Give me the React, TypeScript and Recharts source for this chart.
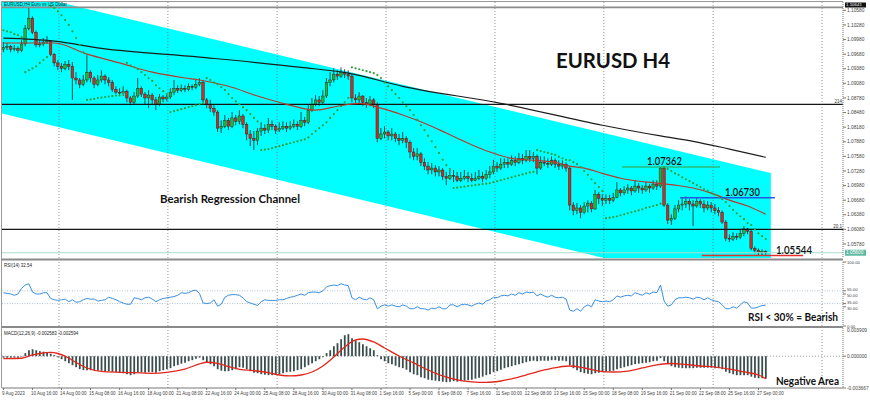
import React from "react";
import { Area, Bar, ComposedChart, Line, ReferenceLine, XAxis, YAxis } from "recharts";

// EURUSD H4, 9 Aug 08:00 -> 27 Sep 08:00 (one entry per 4h bar), prices
const firstOpen = 1.0978;
const closes = [
  1.0982, 1.0984, 1.0978, 1.098, 1.0976, 1.0989, 1.1021, 1.1042, 1.1013, 1.0987,
  1.0989, 1.0993, 1.0995, 1.0968, 1.095, 1.0943, 1.0939, 1.0947, 1.0943, 1.0919,
  1.0915, 1.0906, 1.0915, 1.0931, 1.0919, 1.0906, 1.0915, 1.0923, 1.0915, 1.091,
  1.0896, 1.089, 1.0888, 1.0892, 1.0878, 1.0869, 1.0882, 1.0898, 1.0886, 1.0878,
  1.0884, 1.0874, 1.0865, 1.088, 1.0876, 1.088, 1.089, 1.0898, 1.0894, 1.0898,
  1.0896, 1.0902, 1.09, 1.0906, 1.091, 1.0874, 1.0865, 1.0857, 1.0849, 1.0816,
  1.082, 1.0832, 1.082, 1.0837, 1.083, 1.0841, 1.0824, 1.0804, 1.0795, 1.0791,
  1.081, 1.0816, 1.0812, 1.0824, 1.082, 1.0812, 1.0816, 1.082, 1.0816, 1.082,
  1.0824, 1.082, 1.0832, 1.0828, 1.0853, 1.0865, 1.0874, 1.0869, 1.0882, 1.091,
  1.0915, 1.0927, 1.0923, 1.0931, 1.0927, 1.0923, 1.0878, 1.0874, 1.0882, 1.0869,
  1.0865, 1.0874, 1.0865, 1.0795, 1.0804, 1.0808, 1.08, 1.0804, 1.0795, 1.0791,
  1.0795, 1.0787, 1.0767, 1.0758, 1.0763, 1.0746, 1.0738, 1.073, 1.0734, 1.0726,
  1.073, 1.0717, 1.0713, 1.0719, 1.0717, 1.0709, 1.0713, 1.0717, 1.0713, 1.0709,
  1.0713, 1.0717, 1.0713, 1.0721, 1.0726, 1.0738, 1.0734, 1.0742, 1.0746, 1.0742,
  1.075, 1.0746, 1.0754, 1.075, 1.0758, 1.0754, 1.0758, 1.0734, 1.0746, 1.0744,
  1.0742, 1.075, 1.0742, 1.0738, 1.0742, 1.0734, 1.0658, 1.0647, 1.0652, 1.0643,
  1.0656, 1.0662, 1.065, 1.068, 1.0672, 1.0668, 1.0672, 1.0668, 1.0674, 1.0689,
  1.0683, 1.0689, 1.0693, 1.0687, 1.0697, 1.0693, 1.0689, 1.0697, 1.0693, 1.0701,
  1.0697, 1.0734, 1.0658, 1.0627, 1.0631, 1.065, 1.0658, 1.066, 1.0666, 1.066,
  1.0656, 1.0666, 1.066, 1.0652, 1.0658, 1.0652, 1.0647, 1.0643, 1.0623, 1.059,
  1.0588, 1.0594, 1.0592, 1.06, 1.0609, 1.0604, 1.0569, 1.0565, 1.0561, 1.0563,
  1.056,
];
const highs = [
  1.0993, 1.0991, 1.0987, 1.0987, 1.0984, 1.0997, 1.1028, 1.1065, 1.1046, 1.1017,
  1.0997, 1.1001, 1.1005, 1.0997, 1.097, 1.0956, 1.095, 1.0954, 1.0956, 1.0952,
  1.0931, 1.0919, 1.0925, 1.0966, 1.0935, 1.0923, 1.0925, 1.0935, 1.0927, 1.0921,
  1.0915, 1.0902, 1.0898, 1.0902, 1.0895, 1.0882, 1.089, 1.0919, 1.0902, 1.089,
  1.0894, 1.0888, 1.088, 1.0886, 1.0884, 1.0884, 1.0898, 1.0915, 1.0904, 1.0906,
  1.0904, 1.0908, 1.0906, 1.0915, 1.0919, 1.0915, 1.0878, 1.0874, 1.0863, 1.0853,
  1.0832, 1.0843, 1.0837, 1.0849, 1.0843, 1.0853, 1.0845, 1.0828, 1.0812, 1.081,
  1.0816, 1.0828, 1.0824, 1.0837, 1.0832, 1.0824, 1.0828, 1.083, 1.0828, 1.083,
  1.0834, 1.083, 1.0849, 1.0839, 1.0865, 1.0878, 1.0884, 1.0882, 1.0894, 1.0919,
  1.0931, 1.0939, 1.0935, 1.0941, 1.0937, 1.0935, 1.0927, 1.0886, 1.089, 1.0884,
  1.0878, 1.0882, 1.0878, 1.0869, 1.0816, 1.082, 1.0812, 1.0816, 1.0808, 1.0804,
  1.0808, 1.08, 1.0791, 1.0775, 1.0775, 1.0767, 1.0754, 1.0746, 1.0744, 1.074,
  1.0738, 1.0734, 1.0726, 1.073, 1.073, 1.0726, 1.0726, 1.073, 1.0726, 1.0723,
  1.0726, 1.073, 1.0726, 1.073, 1.0738, 1.0751, 1.0746, 1.0754, 1.0754, 1.0754,
  1.076, 1.0758, 1.0765, 1.0763, 1.0771, 1.0771, 1.0767, 1.0762, 1.0758, 1.0758,
  1.0754, 1.0758, 1.0754, 1.075, 1.075, 1.0746, 1.0738, 1.0664, 1.0662, 1.0658,
  1.0664, 1.0668, 1.0666, 1.0689, 1.0685, 1.068, 1.068, 1.0679, 1.0683, 1.0705,
  1.0693, 1.0697, 1.0701, 1.0697, 1.0709, 1.0703, 1.0699, 1.0705, 1.0701, 1.0709,
  1.0709, 1.07362, 1.0735, 1.0662, 1.0639, 1.0658, 1.0668, 1.0672, 1.0676, 1.067,
  1.0668, 1.0674, 1.067, 1.0668, 1.0666, 1.0664, 1.066, 1.0654, 1.0647, 1.0627,
  1.0598, 1.0602, 1.06, 1.0609, 1.0615, 1.0611, 1.0609, 1.0573, 1.0569, 1.0567,
  1.0565,
];
const lows = [
  1.0972, 1.0976, 1.0972, 1.0974, 1.097, 1.0972, 1.0984, 1.1017, 1.1009, 1.0982,
  1.0982, 1.0984, 1.0989, 1.0964, 1.0943, 1.0935, 1.0931, 1.0935, 1.0935, 1.0874,
  1.0906, 1.0898, 1.0902, 1.091, 1.091, 1.0898, 1.0902, 1.091, 1.0906, 1.0902,
  1.089, 1.0886, 1.0884, 1.0888, 1.0869, 1.0863, 1.0865, 1.0878, 1.088, 1.0865,
  1.0857, 1.0865, 1.0853, 1.0861, 1.0869, 1.0871, 1.0876, 1.0884, 1.0888, 1.089,
  1.089, 1.0892, 1.0894, 1.0896, 1.0902, 1.0869, 1.0857, 1.0849, 1.0841, 1.0808,
  1.0806, 1.0816, 1.0812, 1.0816, 1.0822, 1.0824, 1.0816, 1.0791, 1.0779, 1.0771,
  1.0781, 1.08, 1.0804, 1.0806, 1.0812, 1.0804, 1.0808, 1.0812, 1.0808, 1.0812,
  1.0816, 1.0812, 1.0816, 1.082, 1.0824, 1.0849, 1.0861, 1.0861, 1.0865, 1.0878,
  1.0902, 1.091, 1.0915, 1.0919, 1.0919, 1.0915, 1.0869, 1.0865, 1.0865, 1.0861,
  1.0857, 1.0861, 1.0857, 1.0787, 1.0791, 1.0795, 1.0791, 1.0791, 1.0787, 1.0781,
  1.0785, 1.0775, 1.0754, 1.075, 1.075, 1.0738, 1.073, 1.0721, 1.0721, 1.0717,
  1.0717, 1.0709, 1.0699, 1.0709, 1.0705, 1.0705, 1.0705, 1.0709, 1.0705, 1.0705,
  1.0707, 1.0709, 1.0705, 1.0709, 1.0713, 1.0721, 1.0726, 1.073, 1.0734, 1.0734,
  1.0738, 1.0738, 1.0742, 1.0742, 1.0746, 1.0746, 1.0746, 1.0721, 1.073, 1.0738,
  1.0734, 1.0738, 1.0734, 1.073, 1.0732, 1.0726, 1.0647, 1.0637, 1.0639, 1.0631,
  1.0639, 1.0643, 1.0643, 1.0648, 1.066, 1.0656, 1.066, 1.066, 1.0664, 1.0672,
  1.0676, 1.0678, 1.0681, 1.0678, 1.0683, 1.0683, 1.0681, 1.0685, 1.0683, 1.0689,
  1.0689, 1.0693, 1.0654, 1.0619, 1.0617, 1.0627, 1.0643, 1.0647, 1.0652, 1.0647,
  1.0615, 1.0652, 1.0652, 1.0643, 1.0647, 1.0643, 1.0639, 1.0635, 1.0619, 1.0584,
  1.0582, 1.0584, 1.0586, 1.0588, 1.0594, 1.0598, 1.0565, 1.0559, 1.0555, 1.05544,
  1.0556,
];
// parabolic SAR dots
const sar = [
  1.1017, 1.1015, 1.1013, 1.1009, 1.1007, 1.1003, 1.0931, 1.0935, 1.0939, 1.0943,
  1.095, 1.0956, 1.0962, 1.1067, 1.1063, 1.1056, 1.1048, 1.1038, 1.1028, 1.1015,
  1.1001, 1.0987, 1.0972, 1.0874, 1.0875, 1.0876, 1.0878, 1.0879, 1.088, 1.0881,
  1.0882, 1.0883, 1.0883, 1.0884, 1.095, 1.0945, 1.0941, 1.0937, 1.0931, 1.0925,
  1.0919, 1.0913, 1.0904, 1.0898, 1.0892, 1.0886, 1.0849, 1.0851, 1.0853, 1.0855,
  1.0857, 1.0859, 1.0861, 1.0863, 1.0865, 1.0867, 1.0919, 1.0915, 1.091, 1.0906,
  1.09, 1.0894, 1.0886, 1.0878, 1.0871, 1.0865, 1.0859, 1.0853, 1.0845, 1.0837,
  1.083, 1.0771, 1.0772, 1.0773, 1.0775, 1.0777, 1.0779, 1.0781, 1.0783, 1.0785,
  1.0787, 1.0789, 1.0791, 1.0793, 1.0797, 1.0804, 1.081, 1.0816, 1.0822, 1.0828,
  1.0837, 1.0845, 1.0853, 1.0861, 1.0869, 1.0878, 1.0941, 1.0939, 1.0937, 1.0935,
  1.0933, 1.0931, 1.0929, 1.0925, 1.0919, 1.091, 1.0902, 1.0894, 1.0886, 1.0878,
  1.0869, 1.0861, 1.0853, 1.0843, 1.0833, 1.0822, 1.0812, 1.08, 1.0789, 1.0777,
  1.0765, 1.0751, 1.074, 1.0732, 1.0693, 1.0694, 1.0695, 1.0696, 1.0697, 1.0698,
  1.0699, 1.07, 1.0701, 1.0702, 1.0703, 1.0705, 1.0707, 1.0709, 1.0711, 1.0713,
  1.0715, 1.0717, 1.0719, 1.0721, 1.0723, 1.0725, 1.0726, 1.0771, 1.0769, 1.0767,
  1.0765, 1.0763, 1.0761, 1.0757, 1.0754, 1.0751, 1.075, 1.0746, 1.0742, 1.0736,
  1.0728, 1.072, 1.0711, 1.0703, 1.0695, 1.0687, 1.0631, 1.0632, 1.0633, 1.0635,
  1.0637, 1.0639, 1.0641, 1.0643, 1.0645, 1.0647, 1.0649, 1.0652, 1.0654, 1.0656,
  1.0658, 1.0661, 1.0736, 1.0732, 1.0728, 1.0723, 1.072, 1.0715, 1.0711, 1.0707,
  1.0703, 1.0699, 1.0695, 1.0691, 1.0687, 1.0683, 1.0679, 1.0674, 1.067, 1.0664,
  1.0656, 1.0648, 1.0641, 1.0635, 1.0629, 1.0621, 1.0617, 1.0608, 1.06, 1.0594,
  1.0588,
];
const rsi = [
  52, 51, 50, 48, 50, 59, 64, 66, 53, 50, 50, 52, 52, 43, 41, 40, 41, 42, 38, 41,
  37, 38, 41, 43, 42, 42, 39, 40, 41, 45, 43, 41, 38, 36, 34, 34, 44, 43, 41, 44,
  45, 42, 38, 41, 43, 44, 45, 46, 48, 52, 51, 52, 55, 56, 51, 36, 35, 36, 41, 31,
  34, 45, 48, 49, 49, 48, 44, 38, 36, 34, 32, 38, 41, 40, 40, 40, 41, 41, 43, 45,
  46, 48, 50, 48, 52, 53, 53, 52, 55, 61, 63, 64, 63, 66, 64, 63, 44, 41, 45, 42,
  41, 44, 41, 27, 31, 33, 31, 33, 31, 30, 33, 31, 27, 27, 30, 27, 27, 25, 28, 27,
  30, 27, 27, 33, 33, 30, 33, 34, 33, 31, 34, 36, 34, 39, 41, 45, 44, 47, 48, 47,
  50, 48, 52, 50, 53, 52, 53, 47, 50, 47, 45, 48, 45, 44, 45, 42, 25, 23, 27, 23,
  30, 33, 30, 41, 39, 38, 39, 38, 41, 47, 45, 47, 48, 47, 52, 50, 48, 52, 50, 53,
  52, 64, 39, 31, 33, 41, 44, 44, 45, 44, 42, 45, 44, 41, 44, 41, 39, 38, 33, 27,
  27, 30, 28, 33, 38, 36, 28, 28, 30, 32, 32.54,
];
const macdMain = [
  -0.00017, -0.00017, -0.00017, -0.00017, -0.00017, -0.00006, 0.00035, 0.00069, 0.00081, 0.00069,
  0.00058, 0.00052, 0.00046, 0.00029, 0.00012, -0.00012, -0.00035, -0.00058, -0.00081, -0.00104,
  -0.00127, -0.0015, -0.00161, -0.00161, -0.00161, -0.00161, -0.00167, -0.00167, -0.00173, -0.00173,
  -0.00179, -0.00184, -0.0019, -0.00196, -0.00208, -0.00219, -0.00208, -0.00184, -0.00184, -0.0019,
  -0.00184, -0.00184, -0.0019, -0.00173, -0.00161, -0.0015, -0.00138, -0.00115, -0.00104, -0.00086,
  -0.00075, -0.00058, -0.00046, -0.00029, -0.00017, -0.00046, -0.00069, -0.00092, -0.00115, -0.0015,
  -0.00167, -0.00173, -0.00173, -0.00161, -0.0015, -0.00127, -0.00133, -0.0015, -0.00173, -0.0019,
  -0.00196, -0.00208, -0.00213, -0.00219, -0.00219, -0.00213, -0.00208, -0.00196, -0.00184, -0.00179,
  -0.00173, -0.00161, -0.0015, -0.00127, -0.00104, -0.00081, -0.00058, -0.00035, -0.00012, 0.00035,
  0.00069, 0.00115, 0.0015, 0.00196, 0.00242, 0.00254, 0.00208, 0.00184, 0.00161, 0.00138,
  0.00115, 0.00092, 0.00069, 0.00012, -0.00035, -0.00058, -0.00081, -0.00092, -0.0011, -0.00127,
  -0.00138, -0.00156, -0.00184, -0.00208, -0.00219, -0.00242, -0.00254, -0.00271, -0.00277, -0.00282,
  -0.00288, -0.00294, -0.003, -0.00294, -0.00288, -0.00294, -0.00288, -0.00282, -0.00277, -0.00271,
  -0.00259, -0.00248, -0.00236, -0.00219, -0.00208, -0.00184, -0.00173, -0.00156, -0.00138, -0.00127,
  -0.00115, -0.00104, -0.00092, -0.00081, -0.00069, -0.00058, -0.00052, -0.00058, -0.00052, -0.00052,
  -0.00052, -0.00046, -0.00046, -0.00052, -0.00052, -0.00058, -0.00104, -0.00138, -0.00161, -0.00184,
  -0.00196, -0.00202, -0.00208, -0.00196, -0.0019, -0.00184, -0.00179, -0.00173, -0.00167, -0.0015,
  -0.00138, -0.00127, -0.00115, -0.00104, -0.00092, -0.00086, -0.00081, -0.00075, -0.00069, -0.00058,
  -0.00052, -0.00023, -0.00058, -0.00092, -0.00115, -0.00127, -0.00133, -0.00138, -0.00138, -0.00138,
  -0.00138, -0.00133, -0.00133, -0.00133, -0.00133, -0.00133, -0.00138, -0.00138, -0.0015, -0.00179,
  -0.00196, -0.00208, -0.00219, -0.00219, -0.00219, -0.00219, -0.00236, -0.00248, -0.00254, -0.00254,
  -0.002583,
];
// smooth lines, read at a few bars each: [bar, value]
const macdSignal = [
  [0, -0.00027], [5, -0.00024], [8, 0.00014], [10, 0.00031], [13, 0.00043], [15, 0.00031],
  [18, -0.00021], [20, -0.00073], [23, -0.00136], [27, -0.00176], [32, -0.00186], [36, -0.0019],
  [41, -0.00197], [45, -0.00186], [50, -0.00148], [54, -0.0009], [56, -0.0007], [59, -0.00082],
  [62, -0.00121], [65, -0.00151], [69, -0.00167], [73, -0.0019], [76, -0.00217], [79, -0.00228],
  [82, -0.00217], [85, -0.00182], [88, -0.00113], [91, -0.00009], [94, 0.00106], [97, 0.00187],
  [99, 0.00198], [102, 0.00164], [105, 0.00095], [109, 0.00002], [113, -0.00078], [117, -0.00159],
  [121, -0.00228], [125, -0.00274], [129, -0.00297], [133, -0.00303], [137, -0.00286], [141, -0.00251],
  [145, -0.00205], [149, -0.00159], [153, -0.00125], [156, -0.00113], [160, -0.00136], [164, -0.00171],
  [168, -0.00182], [172, -0.00171], [176, -0.00136], [180, -0.00101], [184, -0.00084], [188, -0.00096],
  [192, -0.00113], [196, -0.00125], [200, -0.00148], [204, -0.00182], [208, -0.00217], [210, -0.002594],
];
const maRed = [
  [0, 1.0991], [14, 1.0991], [23, 1.0968], [32, 1.095], [41, 1.0931], [50, 1.0919], [54, 1.0915],
  [62, 1.0902], [70, 1.0882], [78, 1.0865], [86, 1.0853], [92, 1.0861], [98, 1.0867], [104, 1.0857],
  [110, 1.0843], [116, 1.0826], [122, 1.0806], [128, 1.0785], [134, 1.0767], [140, 1.0754],
  [146, 1.075], [152, 1.0746], [156, 1.0738], [160, 1.0734], [165, 1.0723], [170, 1.0713],
  [180, 1.0703], [185, 1.0699], [190, 1.0693], [196, 1.068], [200, 1.0668], [205, 1.0656], [210, 1.0639],
];
const maBlack = [
  [0, 1.1001], [14, 1.0995], [27, 1.098], [54, 1.0962], [82, 1.0941], [95, 1.0929], [110, 1.0902],
  [137, 1.0867], [165, 1.0822], [181, 1.08], [190, 1.0789], [200, 1.0773], [210, 1.0756],
];
// regression channel edges at its two ends: [bar, lower, upper]
const channelEnds = [
  [-0.4, 1.08461, 1.11029],
  [211.4, 1.0467, 1.07238],
];
const dateLabels = [
  "9 Aug 2023", "10 Aug 16:00", "14 Aug 00:00", "15 Aug 08:00", "16 Aug 16:00", "18 Aug 00:00",
  "21 Aug 08:00", "22 Aug 16:00", "24 Aug 00:00", "25 Aug 08:00", "28 Aug 16:00", "30 Aug 00:00",
  "31 Aug 08:00", "1 Sep 16:00", "5 Sep 00:00", "6 Sep 08:00", "7 Sep 16:00", "11 Sep 00:00",
  "12 Sep 08:00", "13 Sep 16:00", "15 Sep 00:00", "18 Sep 08:00", "19 Sep 16:00", "21 Sep 00:00",
  "22 Sep 08:00", "25 Sep 16:00", "27 Sep 00:00",
];
const priceTicks = [
  1.0578, 1.0608, 1.0638, 1.0668, 1.0698, 1.0728, 1.0758, 1.0788, 1.0818,
  1.0848, 1.0878, 1.0908, 1.0938, 1.0968, 1.0998, 1.1028, 1.1058,
];
const rsiTicks = [0, 30, 35, 50, 55, 100];
const rsiLevels = [55, 35];
const macdTicks = [-0.003667, 0];
const macdTop = "0.003909";
const levels = { high: 1.10641, res: 1.0865, sup: 1.0608, swing: 1.07362, mid: 1.0673, low: 1.05544 };

const X_DOMAIN: [number, number] = [-0.4, 231.28];
const PRICE_DOMAIN: [number, number] = [1.05492, 1.10752];
const MACD_DOMAIN: [number, number] = [-0.003667, 0.00325];
const gridBars = [15.3, 45.3, 75.4, 105.4, 135.4, 165.4, 195.5, 225.5];

const bars = closes.map((c, i) => ({
  i,
  o: i === 0 ? firstOpen : closes[i - 1],
  h: highs[i],
  l: lows[i],
  c,
  range: [lows[i], highs[i]],
  sar: sar[i],
  rsi: rsi[i],
  macd: macdMain[i],
}));
const channel = channelEnds.map(([i, lo, hi]) => ({ i, band: [lo, hi] }));
const redLine = maRed.map(([i, v]) => ({ i, v }));
const blackLine = maBlack.map(([i, v]) => ({ i, v }));
const signalLine = macdSignal.map(([i, v]) => ({ i, v }));
const dateTicks = dateLabels.map((_, k) => k * 8);
const last = closes[closes.length - 1];

const AXIS_FONT = "Liberation Sans";
const axisTick = { fontSize: 4.8, fill: "#444", fontFamily: AXIS_FONT };
const axisLine = { stroke: "#777", strokeDasharray: "1 1" };
const NOTE_FONT = "Lato, 'Open Sans', sans-serif";

function Candle(props: any) {
  const { x, y, width, height, payload } = props;
  if (x == null || !payload) return null;
  const top = Math.min(y, y + height);
  const span = Math.abs(height);
  const k = span / (payload.h - payload.l);
  const py = (v: number) => top + (payload.h - v) * k;
  const cx = x + width / 2;
  const bull = payload.c >= payload.o;
  const bTop = py(Math.max(payload.o, payload.c));
  const bBot = py(Math.min(payload.o, payload.c));
  return (
    <g>
      <line x1={cx} x2={cx} y1={top} y2={top + span} stroke="#1a1a1a" strokeWidth={0.8} />
      <rect
        x={cx - 1.3}
        y={bTop}
        width={2.6}
        height={Math.max(bBot - bTop, 0.8)}
        fill={bull ? "#2faf2f" : "#d42a1e"}
        stroke="#1a1a1a"
        strokeWidth={0.4}
      />
    </g>
  );
}

function DateTick(props: any) {
  const { x, y, payload } = props;
  return (
    <text x={x - 1.5} y={y + 3} fontSize={4.5} fill="#444" fontFamily={AXIS_FONT} textAnchor="start">
      {dateLabels[Math.round(payload.value / 8)]}
    </text>
  );
}

// RSI scale labels come in close pairs (55/50, 35/30): nudge them apart a little
function RsiTick(props: any) {
  const { x, y, payload } = props;
  const v = payload.value;
  const dy = v === 55 || v === 35 ? -1.3 : v === 50 || v === 30 ? 1.3 : 0;
  return (
    <text x={x} y={y + dy + 1.6} fontSize={4.2} fill="#444" fontFamily={AXIS_FONT} textAnchor="start">
      {v.toFixed(2)}
    </text>
  );
}

const gridLines = () =>
  gridBars.map((g) => (
    <ReferenceLine key={g} x={g} stroke="#777" strokeDasharray="1 2" strokeWidth={0.8} />
  ));

// pixel row of a price in the main panel (used only to place the text notes)
const priceY = (p: number) =>
  2 + ((PRICE_DOMAIN[1] - p) / (PRICE_DOMAIN[1] - PRICE_DOMAIN[0])) * 256;

export default function App() {
  return (
    <div style={{ position: "fixed", left: 0, top: 0, width: 870, height: 400, background: "#fff", overflow: "hidden" }}>
      <div style={{ position: "absolute", left: 0, top: 0 }}>
        <ComposedChart width={870} height={260} data={bars} margin={{ top: 2, right: 0, bottom: 2, left: 2 }}>
          <XAxis dataKey="i" type="number" domain={X_DOMAIN} allowDataOverflow hide />
          <YAxis
            orientation="right"
            width={27}
            domain={PRICE_DOMAIN}
            allowDataOverflow
            ticks={priceTicks}
            interval={0}
            tickFormatter={(v: number) => v.toFixed(5)}
            tick={axisTick}
            tickSize={3}
            tickMargin={1}
            axisLine={axisLine}
            tickLine={{ stroke: "#777" }}
          />
          <Area data={channel} dataKey="band" type="linear" fill="#00ffff" fillOpacity={1} stroke="none" isAnimationActive={false} />
          {gridLines()}
          <ReferenceLine y={levels.high} stroke="#8c8c8c" strokeWidth={1.6} />
          <ReferenceLine y={levels.res} stroke="#151515" strokeWidth={1.2} />
          <ReferenceLine y={levels.sup} stroke="#151515" strokeWidth={1.2} />
          <ReferenceLine y={last} stroke="#a9dcc9" strokeWidth={1} />
          <Line data={blackLine} dataKey="v" type="monotone" dot={false} stroke="#1c1c1c" strokeWidth={1.2} isAnimationActive={false} />
          <Line data={redLine} dataKey="v" type="monotone" dot={false} stroke="#b8392c" strokeWidth={1.2} isAnimationActive={false} />
          <ReferenceLine segment={[{ x: 170.4, y: levels.swing }, { x: 197.4, y: levels.swing }]} stroke="#3c9c3c" strokeWidth={1.2} />
          <ReferenceLine segment={[{ x: 186.4, y: levels.mid }, { x: 212.5, y: levels.mid }]} stroke="#2456e0" strokeWidth={1.4} />
          <ReferenceLine segment={[{ x: 192.4, y: levels.low }, { x: 220.3, y: levels.low }]} stroke="#e0302a" strokeWidth={1.4} />
          <Bar dataKey="range" shape={(p: any) => <Candle {...p} />} barSize={3} isAnimationActive={false} />
          <Line dataKey="sar" stroke="none" dot={{ r: 1.1, fill: "#2f9e3a", stroke: "none" }} activeDot={false} isAnimationActive={false} />
        </ComposedChart>
      </div>

      <div style={{ position: "absolute", left: 0, top: 260 }}>
        <ComposedChart width={870} height={68} data={bars} margin={{ top: 2, right: 0, bottom: 2, left: 2 }}>
          <XAxis dataKey="i" type="number" domain={X_DOMAIN} allowDataOverflow hide />
          <YAxis
            orientation="right"
            width={27}
            domain={[0, 100]}
            ticks={rsiTicks}
            interval={0}
            tick={<RsiTick />}
            tickSize={3}
            tickMargin={1}
            axisLine={axisLine}
            tickLine={{ stroke: "#777" }}
          />
          {gridLines()}
          {rsiLevels.map((lv) => (
            <ReferenceLine key={lv} y={lv} stroke="#9fb4c8" strokeDasharray="1 1.5" strokeWidth={0.8} />
          ))}
          <Line dataKey="rsi" type="linear" stroke="#3b8fe0" strokeWidth={1} dot={false} isAnimationActive={false} />
        </ComposedChart>
      </div>

      <div style={{ position: "absolute", left: 0, top: 326 }}>
        <ComposedChart width={870} height={74} data={bars} margin={{ top: 2, right: 0, bottom: 0, left: 2 }}>
          <XAxis
            dataKey="i"
            type="number"
            domain={X_DOMAIN}
            allowDataOverflow
            ticks={dateTicks}
            interval={0}
            height={12}
            tick={<DateTick />}
            tickSize={2}
            axisLine={{ stroke: "#777" }}
            tickLine={{ stroke: "#777" }}
          />
          <YAxis
            orientation="right"
            width={27}
            domain={MACD_DOMAIN}
            allowDataOverflow
            ticks={macdTicks}
            interval={0}
            tickFormatter={(v: number) => v.toFixed(6)}
            tick={axisTick}
            tickSize={3}
            tickMargin={1}
            axisLine={axisLine}
            tickLine={{ stroke: "#777" }}
          />
          {gridLines()}
          <ReferenceLine y={0} stroke="#888" strokeDasharray="1 2" strokeWidth={0.8} />
          <Bar dataKey="macd" fill="#3a4c4c" barSize={1.8} isAnimationActive={false} />
          <Line data={signalLine} dataKey="v" type="monotone" stroke="#e3261c" strokeWidth={1.3} dot={false} isAnimationActive={false} />
        </ComposedChart>
      </div>

      <svg width={870} height={400} style={{ position: "absolute", left: 0, top: 0, pointerEvents: "none" }}>
        {/* frame and panel separators */}
        <line x1={1.5} x2={843} y1={1.5} y2={1.5} stroke="#999" strokeWidth={1} />
        <line x1={1.5} x2={1.5} y1={1.5} y2={388} stroke="#999" strokeWidth={1} />
        <line x1={1.5} x2={843} y1={259.5} y2={259.5} stroke="#8a8a8a" strokeWidth={2} />
        <line x1={1.5} x2={843} y1={327} y2={327} stroke="#8a8a8a" strokeWidth={2} />

        {/* indicator headers */}
        <text x={4} y={5.5} fontSize={4.5} fill="#222" fontFamily={AXIS_FONT}>EURUSD,H4  Euro vs US Dollar</text>
        <text x={4} y={267} fontSize={4.5} fill="#222" fontFamily={AXIS_FONT}>RSI(14) 32.54</text>
        <text x={4} y={335} fontSize={4.5} fill="#222" fontFamily={AXIS_FONT}>MACD(12,26,9) -0.002583 -0.002594</text>

        {/* axis boxes */}
        <rect x={845} y={2.5} width={21} height={5} fill="#111" />
        <text x={846} y={6.4} fontSize={4.4} fill="#fff" fontFamily={AXIS_FONT}>{levels.high.toFixed(5)}</text>
        <rect x={845} y={priceY(last) - 3} width={21} height={6} fill="#5fb9a2" />
        <text x={846} y={priceY(last) + 1.7} fontSize={4.8} fill="#fff" fontFamily={AXIS_FONT}>{last.toFixed(5)}</text>
        <text x={847} y={331.5} fontSize={4.8} fill="#444" fontFamily={AXIS_FONT}>{macdTop}</text>
        <text x={842} y={priceY(levels.res) - 1.5} fontSize={4.5} fill="#333" fontFamily={AXIS_FONT} textAnchor="end">214</text>
        <text x={842} y={priceY(levels.sup) - 1.5} fontSize={4.5} fill="#333" fontFamily={AXIS_FONT} textAnchor="end">20.1</text>

        {/* notes */}
        <text x={556} y={68} fontSize={21} fontWeight={700} fill="#111" fontFamily={NOTE_FONT} textLength={114} lengthAdjust="spacingAndGlyphs">EURUSD H4</text>
        <text x={160} y={203} fontSize={12} fontWeight={700} fill="#111" fontFamily={NOTE_FONT} textLength={140} lengthAdjust="spacingAndGlyphs">Bearish Regression Channel</text>
        <text x={647} y={priceY(levels.swing) - 2} fontSize={10.5} fontWeight={600} fill="#111" fontFamily={NOTE_FONT} textLength={35} lengthAdjust="spacingAndGlyphs">{levels.swing.toFixed(5)}</text>
        <text x={725} y={priceY(levels.mid) - 2} fontSize={10.5} fontWeight={600} fill="#111" fontFamily={NOTE_FONT} textLength={35} lengthAdjust="spacingAndGlyphs">{levels.mid.toFixed(5)}</text>
        <text x={776} y={priceY(levels.low) - 1} fontSize={10.5} fontWeight={600} fill="#111" fontFamily={NOTE_FONT} textLength={36} lengthAdjust="spacingAndGlyphs">{levels.low.toFixed(5)}</text>
        <text x={748} y={321} fontSize={11} fontWeight={700} fill="#111" fontFamily={NOTE_FONT} textLength={90} lengthAdjust="spacingAndGlyphs">RSI &lt; 30% = Bearish</text>
        <text x={776} y={385} fontSize={11} fontWeight={700} fill="#111" fontFamily={NOTE_FONT} textLength={63} lengthAdjust="spacingAndGlyphs">Negative Area</text>
      </svg>
    </div>
  );
}
